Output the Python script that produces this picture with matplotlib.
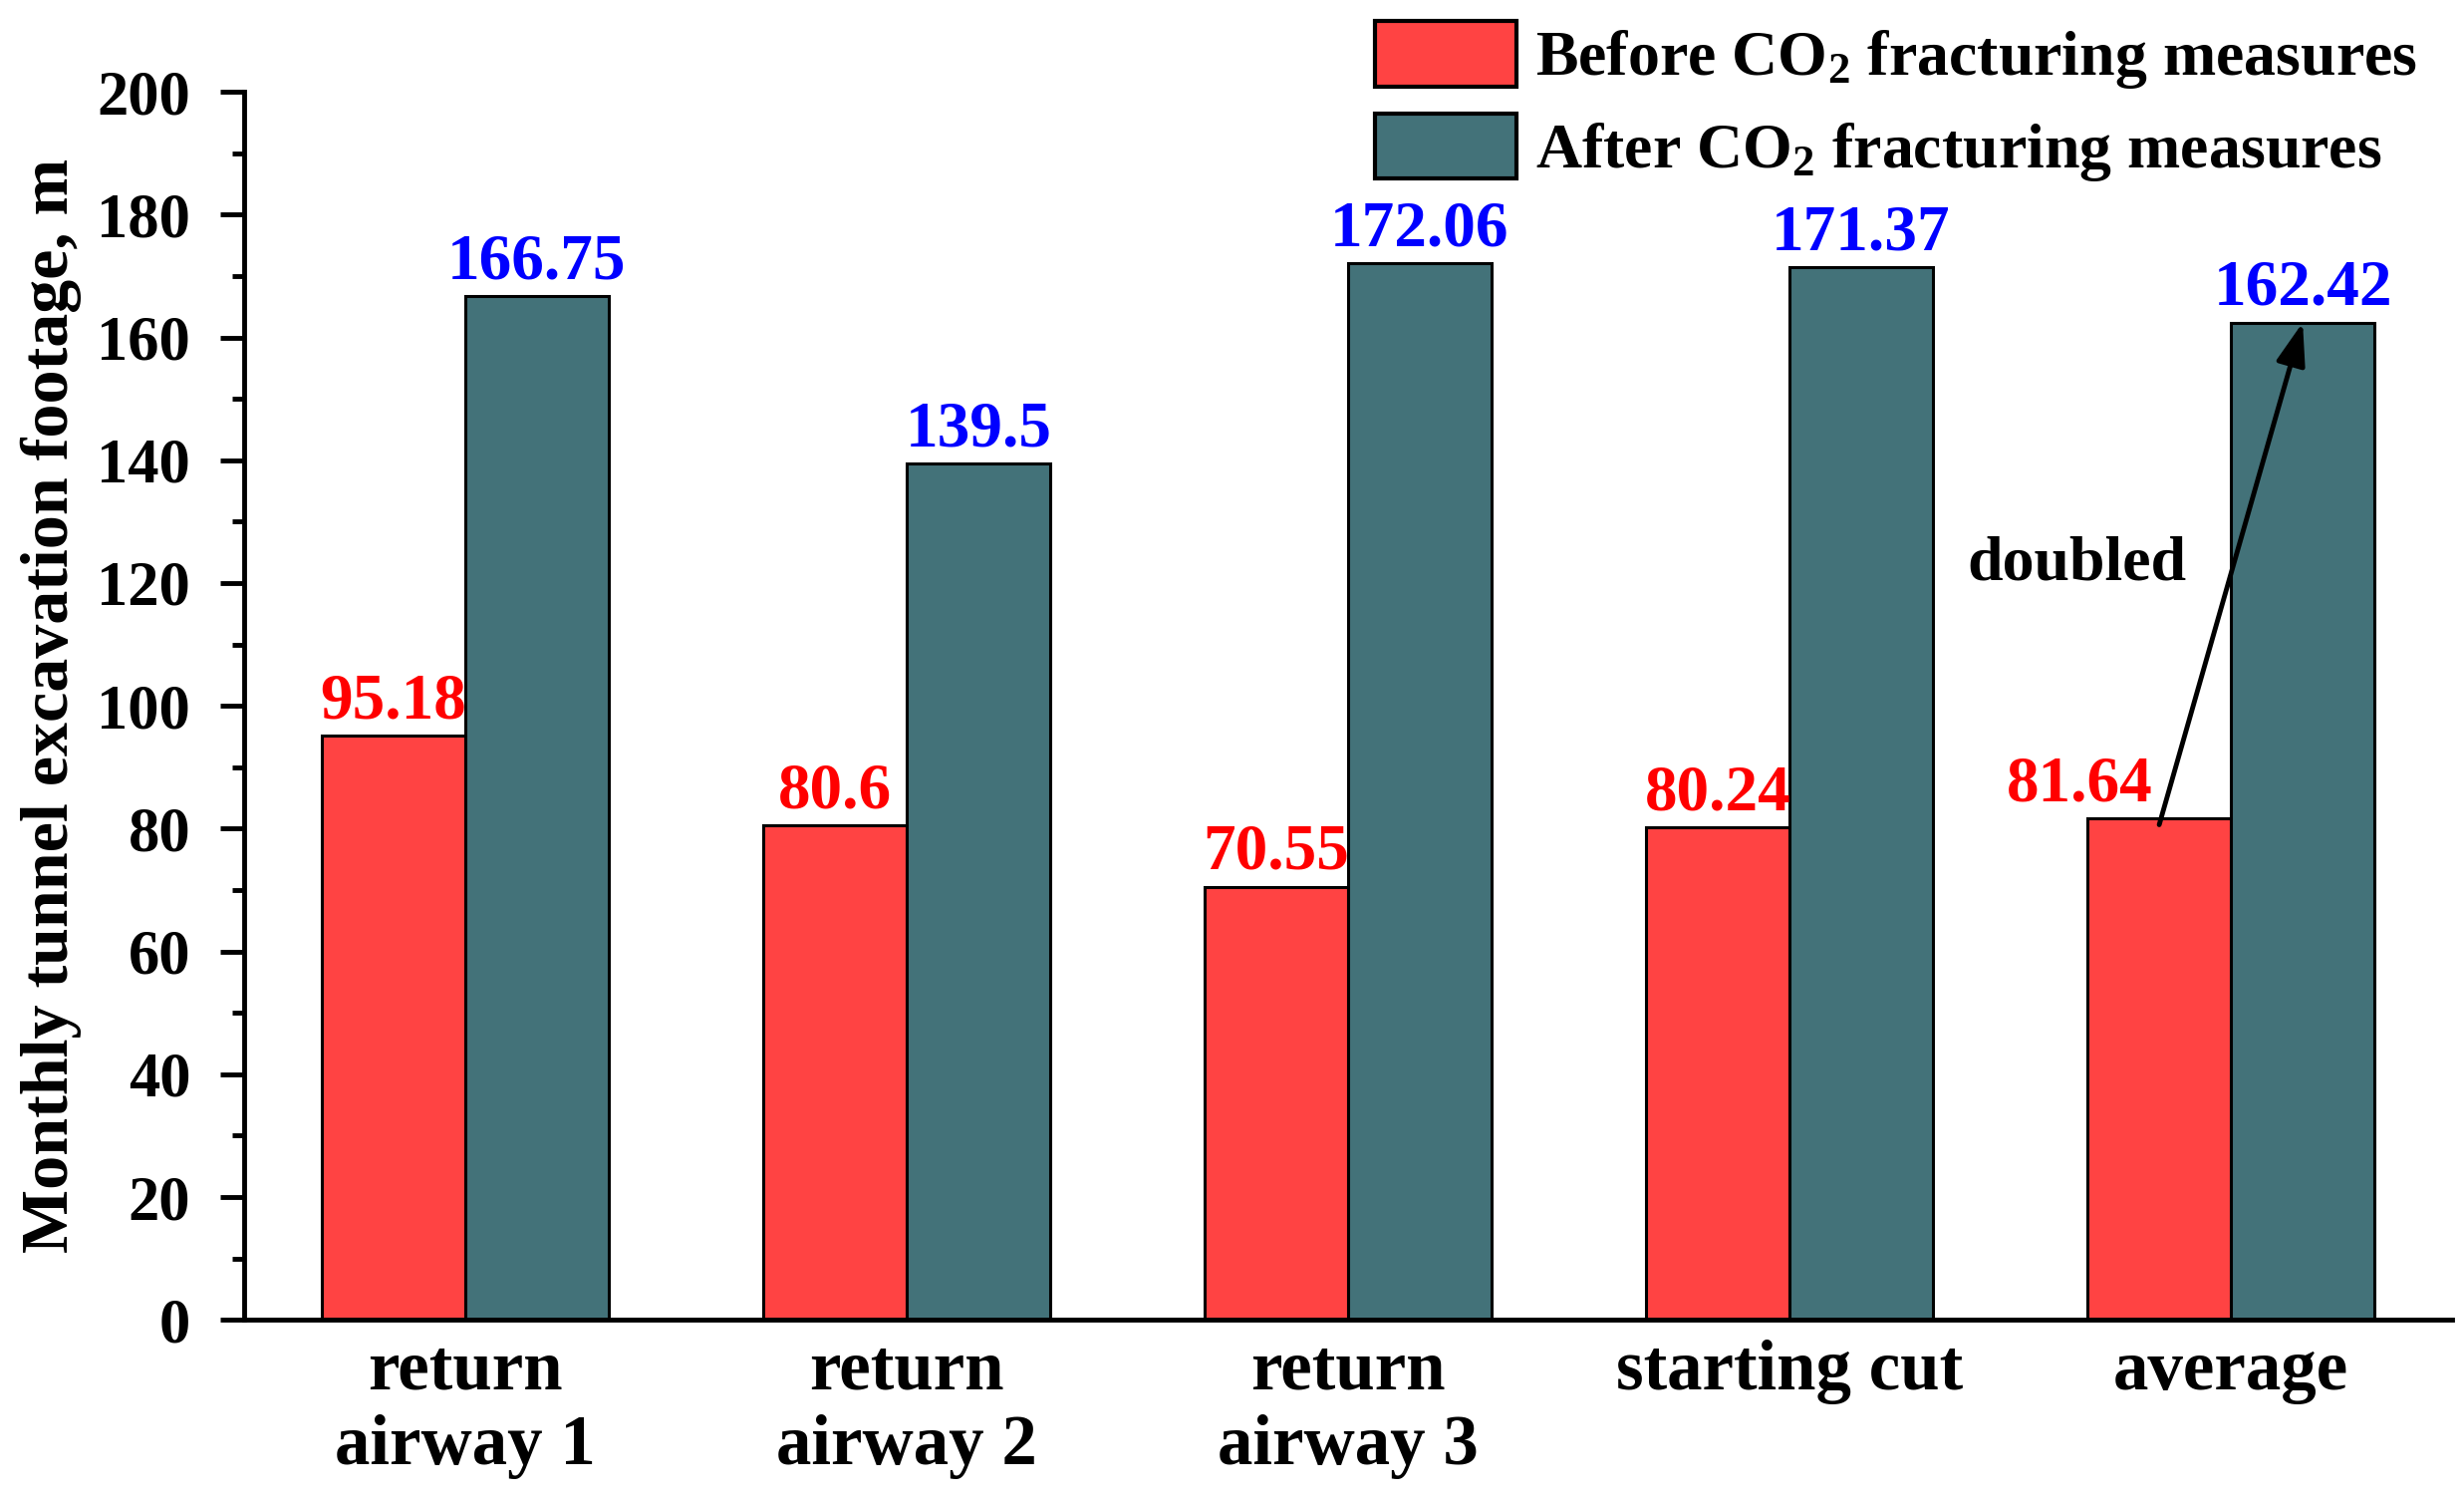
import matplotlib
matplotlib.use("Agg")
import matplotlib.pyplot as plt
import numpy as np
from matplotlib.ticker import MultipleLocator

plt.rcParams['font.family'] = ['Liberation Serif', 'DejaVu Serif']
plt.rcParams['font.weight'] = 'bold'
plt.rcParams['mathtext.fontset'] = 'custom'
plt.rcParams['mathtext.rm'] = 'Liberation Serif:bold'
plt.rcParams['mathtext.bf'] = 'Liberation Serif:bold'
plt.rcParams['mathtext.default'] = 'bf'

categories = ["return\nairway 1", "return\nairway 2", "return\nairway 3", "starting cut", "average"]
before = [95.18, 80.6, 70.55, 80.24, 81.64]
after = [166.75, 139.5, 172.06, 171.37, 162.42]
before_labels = ["95.18", "80.6", "70.55", "80.24", "81.64"]
after_labels = ["166.75", "139.5", "172.06", "171.37", "162.42"]
series_names = [r"Before CO$_2$ fracturing measures", r"After CO$_2$ fracturing measures"]
yticks = [0, 20, 40, 60, 80, 100, 120, 140, 160, 180, 200]

red = '#FF4343'
teal = '#437279'

fig = plt.figure(figsize=(24.73, 15.10), dpi=100)
ax = fig.add_axes([0.0992, 0.123, 0.8958, 0.816])

x = np.arange(len(categories))
w = 0.325
ax.bar(x - w/2, before, w, color=red, edgecolor='black', linewidth=2.2, label=series_names[0], zorder=2)
ax.bar(x + w/2, after, w, color=teal, edgecolor='black', linewidth=2.2, label=series_names[1], zorder=2)

fs_val = 47
for i in range(len(categories)):
    dx = -0.18 if i == len(categories) - 1 else 0.0
    ax.text(x[i] - w/2 + dx, before[i] + 0.6, before_labels[i], ha='center', va='bottom',
            color='#FF0000', fontsize=fs_val, fontweight='bold')
    ax.text(x[i] + w/2, after[i] + 0.6, after_labels[i], ha='center', va='bottom',
            color='#0000FF', fontsize=fs_val, fontweight='bold')

# arrow "doubled"
ax.annotate('', xy=(x[-1] + w/2, after[-1]), xytext=(x[-1] - w/2, before[-1] - 1),
            arrowprops=dict(arrowstyle='-|>,head_length=2.6,head_width=0.9', color='black', lw=3.5,
                            shrinkA=0, shrinkB=0), zorder=5)
ax.text(3.65, 123, 'doubled', ha='center', va='center', fontsize=46, fontweight='bold', color='black')

ax.set_xlim(-0.5, 4.5)
ax.set_ylim(0, 200)
ax.set_yticks(yticks)
ax.yaxis.set_minor_locator(MultipleLocator(10))
ax.set_xticks(x)
ax.set_xticklabels(categories, fontsize=51, fontweight='bold', linespacing=1.2)
ax.tick_params(axis='y', which='major', length=17, width=3.5, labelsize=45, pad=22, direction='out')
ax.tick_params(axis='y', which='minor', length=9, width=3.5, direction='out')
ax.tick_params(axis='x', which='both', length=0, pad=14)
for lab in ax.get_yticklabels():
    lab.set_fontweight('bold')

for s in ['top', 'right']:
    ax.spines[s].set_visible(False)
for s in ['left', 'bottom']:
    ax.spines[s].set_linewidth(3.5)

ax.set_ylabel('Monthly tunnel excavation footage, m', fontsize=49, fontweight='bold', labelpad=11)

leg = ax.legend(loc='upper left', bbox_to_anchor=(0.558, 0.986), bbox_transform=fig.transFigure,
                frameon=False, fontsize=46, handlelength=2.22, handleheight=1.2,
                handletextpad=0.3, labelspacing=0.35, borderpad=0, borderaxespad=0)
for p in leg.get_patches():
    p.set_linewidth(3)

fig.savefig('out.png', dpi=100)
